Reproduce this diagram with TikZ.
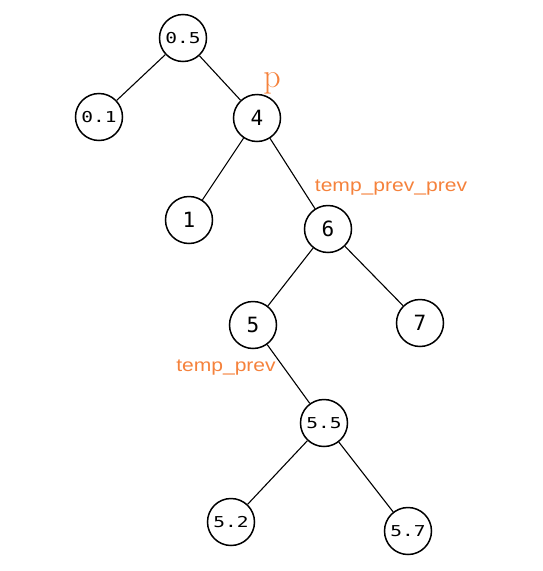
\documentclass[tikz,border=0pt]{standalone}
\usepackage{fontspec}
\newfontfamily\lblfont{Liberation Sans}
\newfontfamily\monofont{DejaVu Sans Mono}
\definecolor{lbl}{RGB}{245,130,60}
\newcommand{\wide}[2]{\scalebox{#1}[1]{#2}}
\begin{document}
\begin{tikzpicture}[x=1pt,y=-1pt,
  tn/.style={draw,circle,line width=1.5pt,minimum size=47pt,inner sep=0pt},
  dec/.style={tn,font=\monofont\fontsize{15}{15}\selectfont},
  int/.style={tn,font=\monofont\fontsize{21}{21}\selectfont},
  edge/.style={line width=1.1pt},
  lab/.style={text=lbl,font=\lblfont\fontsize{18}{18}\selectfont,inner sep=0pt}]
\useasboundingbox (0,0) rectangle (542,571);
\node[dec] (n05) at (183,38) {\wide{1.3}{0.5}};
\node[dec] (n01) at (99,117) {\wide{1.3}{0.1}};
\node[int] (n4) at (257,118) {4};
\node[int] (n1) at (189,220) {1};
\node[int] (n6) at (328,229) {6};
\node[int] (n5) at (253,325) {5};
\node[int] (n7) at (420,323) {7};
\node[dec] (n55) at (324,423) {\wide{1.3}{5.5}};
\node[dec] (n52) at (231,522) {\wide{1.3}{5.2}};
\node[dec] (n57) at (408,531) {\wide{1.3}{5.7}};
\draw[edge] (n05) -- (n01);
\draw[edge] (n05) -- (n4);
\draw[edge] (n4) -- (n1);
\draw[edge] (n4) -- (n6);
\draw[edge] (n6) -- (n5);
\draw[edge] (n6) -- (n7);
\draw[edge] (n5) -- (n55);
\draw[edge] (n55) -- (n52);
\draw[edge] (n55) -- (n57);
\node[text=lbl,font=\fontsize{34}{34}\selectfont,inner sep=0pt] (lp) at (272,83) {p};
\node[lab] (ltpp) at (391,188) {\wide{1.17}{temp\_prev\_prev}};
\node[lab] (ltp) at (226,368) {\wide{1.17}{temp\_prev}};
\end{tikzpicture}
\end{document}
